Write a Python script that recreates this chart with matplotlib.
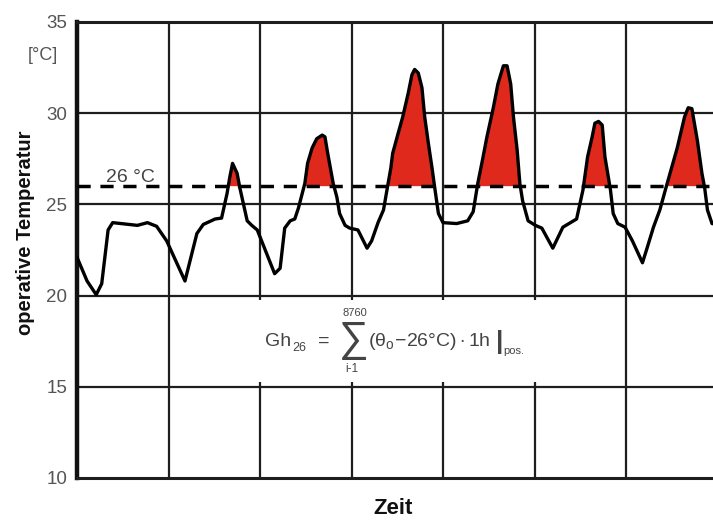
import matplotlib
matplotlib.use("Agg")
import matplotlib.pyplot as plt
import numpy as np

plt.rcParams["mathtext.fontset"] = "custom"
plt.rcParams["mathtext.rm"] = "Liberation Sans"
plt.rcParams["mathtext.it"] = "Liberation Sans:italic"
plt.rcParams["mathtext.sf"] = "Liberation Sans"

# ---- data (time in days, operative temperature in °C) ----
time_days = [0.00, 0.11, 0.21, 0.27, 0.34, 0.39, 0.66, 0.77, 0.87, 0.98,
             1.18, 1.31, 1.38, 1.51, 1.58, 1.64, 1.67, 1.70, 1.75, 1.78,
             1.86, 1.91, 1.97, 2.16, 2.22, 2.27, 2.33, 2.38, 2.42, 2.49,
             2.52, 2.57, 2.62, 2.68, 2.71, 2.74, 2.80, 2.84, 2.87, 2.93,
             2.98, 3.07, 3.17, 3.22, 3.29, 3.35, 3.40, 3.43, 3.45, 3.51,
             3.56, 3.62, 3.66, 3.69, 3.73, 3.77, 3.80, 3.84, 3.88, 3.91,
             3.95, 4.00, 4.15, 4.27, 4.33, 4.38, 4.43, 4.48, 4.55, 4.60,
             4.66, 4.70, 4.74, 4.77, 4.81, 4.84, 4.87, 4.93, 5.01, 5.08,
             5.20, 5.31, 5.46, 5.53, 5.58, 5.63, 5.66, 5.70, 5.74, 5.77,
             5.83, 5.86, 5.91, 5.99, 6.07, 6.18, 6.23, 6.30, 6.37, 6.45,
             6.56, 6.64, 6.68, 6.72, 6.78, 6.83, 6.86, 6.89, 6.94, 7.00]
temperature = [22.1, 20.8, 20.05, 20.65, 23.6, 24.0, 23.85, 24.0, 23.8, 23.0,
               20.8, 23.4, 23.9, 24.2, 24.25, 25.6, 26.5, 27.25, 26.7, 25.9,
               24.1, 23.85, 23.6, 21.2, 21.5, 23.7, 24.1, 24.2, 24.8, 26.15,
               27.25, 28.1, 28.6, 28.8, 28.7, 27.8, 26.15, 25.4, 24.5, 23.85,
               23.7, 23.6, 22.6, 23.0, 24.0, 24.7, 26.15, 27.0, 27.8, 28.9,
               29.8, 31.1, 32.1, 32.4, 32.2, 31.4, 29.8, 28.35, 27.0, 25.9,
               24.5, 24.0, 23.95, 24.1, 24.6, 26.15, 27.4, 28.7, 30.3, 31.6,
               32.6, 32.6, 31.6, 29.8, 28.0, 26.15, 25.2, 24.1, 23.85, 23.7,
               22.6, 23.75, 24.2, 25.8, 27.6, 28.7, 29.45, 29.55, 29.35, 27.6,
               25.8, 24.5, 23.95, 23.75, 23.0, 21.8, 22.6, 23.75, 24.7, 26.15,
               28.1, 29.8, 30.3, 30.25, 28.5, 26.7, 25.9, 24.7, 23.95, 23.9]
threshold = 26.0
y_ticks = [10, 15, 20, 25, 30, 35]
x_grid_full = [1, 6]
x_grid_split = [2, 3, 4, 5]

t = np.array(time_days)
T = np.array(temperature)

W, H = 713, 524
fig = plt.figure(figsize=(W / 100, H / 100), dpi=100)
fig.patch.set_facecolor("white")


def fx(px):
    return px / W


def fy(py):
    return 1 - py / H


x_left_px, day_px = 77, 91.5
y_top_px, y_bot_px = 22, 478
ax = fig.add_axes([fx(x_left_px), fy(y_bot_px), 1 - fx(x_left_px),
                   (y_bot_px - y_top_px) / H])
ax.set_xlim(0, (W - x_left_px) / day_px)
ax.set_ylim(10, 35)

grid_c = "#1e1e1e"
for yv in y_ticks[1:-1]:
    ax.axhline(yv, color=grid_c, lw=1.6, zorder=1)
# vertical grid: full lines at the outer days, interrupted behind the formula
ax.vlines(x_grid_full, 10, 35, color=grid_c, lw=1.6, zorder=1)
ax.vlines(x_grid_split, 10, 15.25, color=grid_c, lw=1.6, zorder=1)
ax.vlines(x_grid_split, 19.75, 35, color=grid_c, lw=1.6, zorder=1)

ax.fill_between(t, threshold, T, where=T > threshold, interpolate=True,
                color="#de291c", lw=0, zorder=3)
ax.axhline(threshold, color="black", lw=2.5, dashes=(3.8, 2.8), zorder=4)
ax.plot(t, T, color="black", lw=2.4, solid_joinstyle="round",
        solid_capstyle="round", zorder=5)

for s in ["top", "bottom"]:
    ax.spines[s].set_linewidth(2.2)
    ax.spines[s].set_color(grid_c)
ax.spines["left"].set_linewidth(3.2)
ax.spines["left"].set_color("#111111")
ax.spines["right"].set_visible(False)

ax.set_xticks([])
ax.set_yticks(y_ticks)
ax.set_yticklabels([str(v) for v in y_ticks], fontsize=13.5,
                   color="#555555", family="Liberation Sans")
ax.tick_params(axis="y", length=0, pad=7)

# labels
fig.text(fx(43), fy(56), "[°C]", fontsize=13, color="#555555",
         family="Liberation Sans", ha="center", va="center")
fig.text(fx(26), fy(233), "operative Temperatur", fontsize=14.5,
         fontweight="bold", family="Liberation Sans", rotation=90,
         ha="center", va="center", color="#111111")
fig.text(fx(393), fy(509), "Zeit", fontsize=16, fontweight="bold",
         family="Liberation Sans", ha="center", va="center", color="#111111")
ax.text(0.58, 26.5, "26 °C", fontsize=14, color="#444444",
        family="Liberation Sans", ha="center", va="center", zorder=6)

# formula, assembled from pieces
fc = "#444444"
ff = ["Liberation Sans", "DejaVu Sans"]
fig.text(fx(265), fy(346), "Gh", fontsize=14, color=fc, family=ff,
         ha="left", va="baseline")
fig.text(fx(292), fy(351), "26", fontsize=9, color=fc, family=ff,
         ha="left", va="baseline")
fig.text(fx(318), fy(346), "=", fontsize=14, color=fc, family=ff,
         ha="left", va="baseline")
fig.text(fx(354), fy(340), "\u2211", fontsize=30, color=fc, family=ff,
         ha="center", va="center")
fig.text(fx(355), fy(313), "8760", fontsize=8, color=fc, family=ff,
         ha="center", va="center")
fig.text(fx(352), fy(369), "i-1", fontsize=8.5, color=fc, family=ff,
         ha="center", va="center")
fig.text(fx(368), fy(346),
         r"$(\mathrm{\theta}_{\mathrm{o}}\!-\!\mathrm{26°C})\cdot\mathrm{1h}$",
         fontsize=14, color=fc, ha="left", va="baseline")
fig.text(fx(500), fy(342), "|", fontsize=19, color=fc, family=ff,
         ha="center", va="center", fontweight="bold")
fig.text(fx(503), fy(354), "pos.", fontsize=8, color=fc, family=ff,
         ha="left", va="baseline")

fig.savefig("out.png", dpi=100, facecolor="white")
